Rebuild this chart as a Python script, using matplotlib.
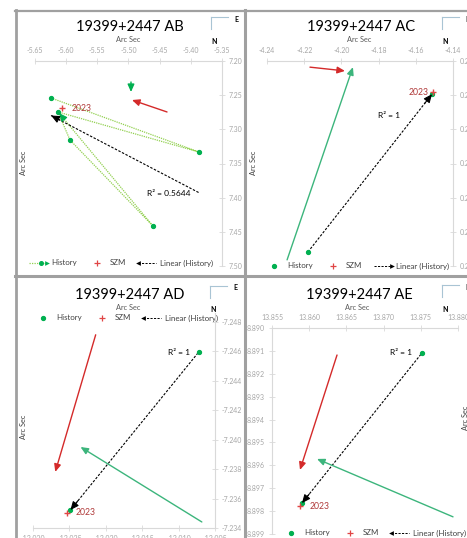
import numpy as np
import matplotlib
matplotlib.use("Agg")
import matplotlib.pyplot as plt
from matplotlib.lines import Line2D
from matplotlib.legend_handler import HandlerBase

plt.rcParams['font.family'] = ['Lato', 'DejaVu Sans']

W, H = 467, 538

# ---- data (arc sec) ----
ab_hist_x = [-5.6243, -5.3869, -5.6131, -5.5939, -5.4607, -5.6115]
ab_hist_y = [7.2541, 7.3332, 7.2746, 7.3156, 7.4415, 7.2761]
ab_szm = (-5.6067, 7.2688)
ab_green_vec = [(-5.496, 7.2307), (-5.496, 7.2454)]
ab_red_vec = [(-5.4382, 7.2746), (-5.4944, 7.2571)]
ab_r2 = "R² = 0.5644"

ac_hist_x = [-4.218, -4.1513]
ac_hist_y = [0.2559, 0.2097]
ac_szm = (-4.1508, 0.2091)
ac_green_vec = [(-4.2292, 0.2582), (-4.1938, 0.2018)]
ac_red_vec = [(-4.2169, 0.2018), (-4.1981, 0.2029)]

ad_hist_x = [-12.00722, -12.02486]
ad_hist_y = [-7.24596, -7.23522]
ad_szm = (-12.02528, -7.23502)
ad_green_vec = [(-12.00681, -7.23441), (-12.02347, -7.23950)]
ad_red_vec = [(-12.02139, -7.24712), (-12.02694, -7.23781)]

ae_hist_x = [13.87516, 13.85903]
ae_hist_y = [8.89109, 8.89765]
ae_szm = (13.85876, 8.89778)
ae_green_vec = [(13.87933, 8.89825), (13.86105, 8.89572)]
ae_red_vec = [(13.86374, 8.89118), (13.85876, 8.89620)]

ab_xticks = [-5.65, -5.60, -5.55, -5.50, -5.45, -5.40, -5.35]
ab_yticks = [7.20, 7.25, 7.30, 7.35, 7.40, 7.45, 7.50]
ac_xticks = [-4.24, -4.22, -4.20, -4.18, -4.16, -4.14]
ac_yticks = [0.20, 0.21, 0.22, 0.23, 0.24, 0.25, 0.26]
ad_xticks = [-12.030, -12.025, -12.020, -12.015, -12.010, -12.005]
ad_yticks = [-7.248, -7.246, -7.244, -7.242, -7.240, -7.238, -7.236, -7.234]
ae_xticks = [13.855, 13.860, 13.865, 13.870, 13.875, 13.880]
ae_yticks = [8.890, 8.891, 8.892, 8.893, 8.894, 8.895, 8.896, 8.897, 8.898, 8.899]

GREEN = '#00b050'
LGREEN = '#92d050'
VGREEN = '#3cb57c'
RED = '#d42a2a'
PLUS = '#e04545'
DRED = '#b03a3a'
GRID = '#d9d9d9'
TICK = '#a6a6a6'
FRAME = '#a0a0a0'

fig = plt.figure(figsize=(W / 100, H / 100), dpi=100)
fig.patch.set_facecolor('white')


class ArrowLine(HandlerBase):
    def __init__(self, color, ls, lw, side, dot=None):
        super().__init__()
        self.color, self.ls, self.lw, self.side, self.dot = color, ls, lw, side, dot

    def create_artists(self, legend, orig, xdescent, ydescent, width, height, fontsize, trans):
        y = height / 2 - ydescent
        x0, x1 = -xdescent, width - xdescent
        arts = [Line2D([x0, x1], [y, y], color=self.color, ls=self.ls, lw=self.lw, transform=trans)]
        if self.dot:
            arts.append(Line2D([(x0 + x1) / 2 + 2], [y], marker='o', ms=2.6, color=self.dot,
                               ls='none', transform=trans))
        tip = x0 if self.side == 'left' else x1
        mk = '<' if self.side == 'left' else '>'
        kc = self.dot if self.dot else self.color
        arts.append(Line2D([tip], [y], marker=mk, ms=3.4, mew=0, color=kc, ls='none', transform=trans))
        return arts


def panel(frame, plot, z, xlim, ylim, xticks, yticks, xfmt, yfmt, xside, yside):
    l, t, r, b = frame
    bg = fig.add_axes([l / W, 1 - b / H, (r - l) / W, (b - t) / H], zorder=z)
    bg.set_xlim(l, r)
    bg.set_ylim(b, t)
    bg.set_xticks([])
    bg.set_yticks([])
    for s in bg.spines.values():
        s.set_visible(False)
    pl, pt, pr, pb = plot
    ax = fig.add_axes([pl / W, 1 - pb / H, (pr - pl) / W, (pb - pt) / H], zorder=z + 0.5)
    ax.set_facecolor('none')
    ax.set_xlim(*xlim)
    ax.set_ylim(*ylim)
    ax.set_xticks(xticks)
    ax.set_yticks(yticks)
    ax.set_xticklabels([xfmt.format(v) for v in xticks])
    ax.set_yticklabels([yfmt.format(v) for v in yticks])
    if xside == 'top':
        ax.xaxis.tick_top()
    if yside == 'right':
        ax.yaxis.tick_right()
    for k, s in ax.spines.items():
        s.set_visible(k in (xside, yside))
        s.set_color(GRID)
        s.set_linewidth(0.8)
    ax.tick_params(direction='inout', length=4, width=0.6, color=GRID,
                   labelsize=5, labelcolor=TICK, pad=3)
    return bg, ax


def head(ax, p_from, p_to, color, frac=0.06):
    p_from = np.array(p_from)
    p_to = np.array(p_to)
    start = p_to + frac * (p_from - p_to)
    ax.annotate('', xy=tuple(p_to), xytext=tuple(start),
                arrowprops=dict(arrowstyle='-|>,head_length=0.5,head_width=0.22',
                                color=color, lw=0.8, shrinkA=0, shrinkB=0))


def vector(ax, vec, color):
    (x0, y0), (x1, y1) = vec
    ax.annotate('', xy=(x1, y1), xytext=(x0, y0),
                arrowprops=dict(arrowstyle='-|>,head_length=0.45,head_width=0.2',
                                color=color, lw=1.0, shrinkA=0, shrinkB=0))


def decorate(bg, title, cx, ty, ylab, compass):
    bg.text(cx, ty, title, ha='center', va='center', fontsize=10.5, color='black')
    bg.text(cx - 2, ty + 13, 'Arc Sec', ha='center', va='center', fontsize=5.3, color='#595959')
    bg.text(ylab[0], ylab[1], 'Arc Sec', ha='center', va='center', rotation=90,
            fontsize=5.3, color='#404040')
    qx, qy = compass
    bg.plot([qx, qx + 17], [qy, qy], color='#a9c4d4', lw=0.8)
    bg.plot([qx, qx], [qy, qy + 12], color='#a9c4d4', lw=0.8)
    bg.text(qx + 25, qy + 2, 'E', ha='center', va='center', fontsize=5, fontweight='bold')
    bg.text(qx + 3, qy + 24, 'N', ha='center', va='center', fontsize=5, fontweight='bold')


def trend(ax, hx, hy, end_idx, r2, r2_pos):
    k, c = np.polyfit(hx, hy, 1)
    xs = np.array([min(hx), max(hx)])
    ys = k * xs + c
    ax.plot(xs, ys, color='black', lw=0.8, ls=(0, (2.2, 1.4)), zorder=2)
    e = 0 if hx[end_idx] == min(hx) else 1
    head(ax, (xs[1 - e], ys[1 - e]), (xs[e], ys[e]), 'black')
    ax.text(r2_pos[0], r2_pos[1], r2, transform=ax.transAxes,
            ha='right', va='center', fontsize=6, color='black')


def szm(ax, p, off, ha):
    ax.plot([p[0]], [p[1]], marker='+', ms=5, mew=1.0, color=PLUS, ls='none', zorder=5)
    ax.annotate('2023', xy=p, xytext=off, textcoords='offset points', ha=ha, va='center',
                fontsize=6.2, color=DRED)


def legend(bg, x, y, side, ab=False):
    h1 = Line2D([], [], marker='o', ms=2.8, color=GREEN, ls='none')
    h2 = Line2D([], [], marker='+', ms=4.5, mew=0.9, color=PLUS, ls='none')
    h3 = Line2D([], [], color='black')
    hm = {h3: ArrowLine('black', (0, (2.2, 1.4)), 0.7, side)}
    if ab:
        h1 = Line2D([], [], color=LGREEN)
        hm[h1] = ArrowLine(LGREEN, (0, (1, 1)), 0.9, 'right', dot=GREEN)
    leg = bg.legend([h1, h2, h3], ['History', 'SZM', 'Linear (History)'], handler_map=hm,
                    loc='center', bbox_to_anchor=(x, y), bbox_transform=bg.transData,
                    ncol=3, frameon=False, fontsize=5.7, handlelength=2.3,
                    handletextpad=0.5, columnspacing=1.4, borderpad=0)
    for t in leg.get_texts():
        t.set_color('#404040')


# ---- AB ----
bg, ax = panel((15, 10, 245, 275), (35, 61, 222, 266), 1,
               (-5.65, -5.35), (7.50, 7.20), ab_xticks, ab_yticks, '{:.2f}', '{:.2f}', 'top', 'right')
decorate(bg, '19399+2447 AB', 130, 27, (23, 163), (211, 17))
ax.plot(ab_hist_x, ab_hist_y, color=LGREEN, lw=0.9, ls=(0, (1, 0.8)), zorder=2)
ax.plot(ab_hist_x[:-1], ab_hist_y[:-1], marker='o', ms=2.8, color=GREEN, ls='none', zorder=3)
head(ax, (ab_hist_x[-2], ab_hist_y[-2]), (ab_hist_x[-1], ab_hist_y[-1]), GREEN)
trend(ax, ab_hist_x, ab_hist_y, 0, ab_r2, (0.834, 0.356))
vector(ax, ab_green_vec, GREEN)
vector(ax, ab_red_vec, RED)
szm(ax, ab_szm, (7, 0), 'left')
legend(bg, 121, 263, 'left', ab=True)

# ---- AC ----
bg, ax = panel((245, 10, 470, 275), (267, 61, 453, 266), 3,
               (-4.24, -4.14), (0.26, 0.20), ac_xticks, ac_yticks, '{:.2f}', '{:.2f}', 'top', 'right')
decorate(bg, '19399+2447 AC', 361, 27, (254, 163), (442, 17))
ax.plot(ac_hist_x, ac_hist_y, marker='o', ms=2.8, color=GREEN, ls='none', zorder=3)
trend(ax, ac_hist_x, ac_hist_y, 1, 'R² = 1', (0.715, 0.732))
vector(ax, ac_green_vec, VGREEN)
vector(ax, ac_red_vec, RED)
szm(ax, ac_szm, (-3, 0), 'right')
legend(bg, 357, 266, 'right')

# ---- AD ----
bg, ax = panel((15, 275, 245, 540), (33, 313, 215, 528), 5,
               (-12.030, -12.005), (-7.234, -7.2486), ad_xticks, ad_yticks, '{:.3f}', '{:.3f}',
               'bottom', 'right')
decorate(bg, '19399+2447 AD', 130, 295, (23, 427), (210, 286))
ax.plot(ad_hist_x, ad_hist_y, marker='o', ms=2.8, color=GREEN, ls='none', zorder=3)
trend(ax, ad_hist_x, ad_hist_y, 1, 'R² = 1', (0.863, 0.815))
vector(ax, ad_green_vec, VGREEN)
vector(ax, ad_red_vec, RED)
szm(ax, ad_szm, (6, 0), 'left')
legend(bg, 126, 318, 'left')

# ---- AE ----
bg, ax = panel((245, 275, 470, 540), (272, 328, 458, 534), 7,
               (13.855, 13.880), (8.899, 8.890), ae_xticks, ae_yticks, '{:.3f}', '{:.3f}',
               'top', 'left')
decorate(bg, '19399+2447 AE', 359, 295, (465, 418), (442, 285))
ax.plot(ae_hist_x, ae_hist_y, marker='o', ms=2.8, color=GREEN, ls='none', zorder=3)
trend(ax, ae_hist_x, ae_hist_y, 1, 'R² = 1', (0.753, 0.879))
vector(ax, ae_green_vec, VGREEN)
vector(ax, ae_red_vec, RED)
szm(ax, ae_szm, (7, 0), 'left')
legend(bg, 374, 533, 'left')

# ---- frame lines between the screenshots ----
top = fig.add_axes([0, 0, 1, 1], zorder=20)
top.set_xlim(0, W)
top.set_ylim(H, 0)
top.axis('off')
top.plot([16, 16], [10, H], color=FRAME, lw=2)
top.plot([15, W], [10.5, 10.5], color=FRAME, lw=1.6)
top.plot([244.5, 244.5], [10, H], color=FRAME, lw=2.2)
top.plot([15, W], [275.5, 275.5], color=FRAME, lw=2.2)

fig.savefig('out.png', dpi=100)
